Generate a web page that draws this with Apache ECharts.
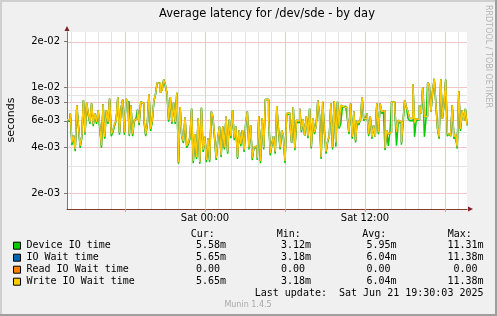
<!DOCTYPE html>
<html>
<head>
<meta charset="utf-8">
<script src="https://cdn.jsdelivr.net/npm/echarts@6/dist/echarts.min.js"></script>
<style>
  html, body { margin: 0; padding: 0; background: #f0f0f0; }
  #chart { width: 497px; height: 316px; }
</style>
</head>
<body>
<div id="chart"></div>
<script>
  // samples in milliseconds, left to right
  var writeWait = [
    6.1, 6.1, 6.7, 4.3, 4.8, 3.9, 7.6, 5.5, 4.1, 4.7, 8.2, 5.0, 7.9, 6.7, 5.9, 7.8, 5.7, 6.7, 5.9, 7.0,
    5.5, 4.1, 7.7, 4.7, 7.0, 5.9, 8.4, 4.9, 5.2, 5.7, 6.05, 8.6, 5.0, 7.3, 8.3, 5.0, 8.4, 8.0, 4.9,
    7.6, 4.9, 6.05, 6.2, 7.1, 5.8, 8.0, 7.8, 6.05, 4.9, 5.8, 9.0, 5.3, 6.05, 8.1, 9.0, 10.7, 10.6, 9.2, 9.6,
    11.25, 10.4, 9.1, 6.1, 8.6, 5.9, 7.9, 5.9, 9.2, 3.18, 7.4, 4.8, 4.4, 6.3, 4.1, 4.3, 4.7, 7.2, 3.25, 4.9,
    3.45, 6.2,
    3.2, 7.3, 3.85, 4.7, 3.3, 4.6, 3.3, 6.9, 6.4, 4.75, 3.4, 4.6, 5.5, 3.55, 5.5, 4.0, 6.4, 3.75, 6.1, 4.75,
    7.0, 4.6, 5.5, 3.45, 5.2, 4.2, 5.2, 3.85, 5.8, 6.9, 4.0, 5.6, 3.4, 4.0, 4.1, 3.4, 6.4, 3.25, 6.2, 4.0, 8.3,
    8.3, 6.4, 3.65, 4.2, 4.75, 3.75, 7.5, 5.3, 4.0, 5.2, 4.75, 3.25, 6.7, 6.75, 5.8, 4.3, 7.4, 3.95, 6.05, 6.0,
    7.2, 5.2, 6.1, 4.8, 6.4, 4.75, 7.2, 4.05, 6.2, 5.05, 5.6, 8.2, 6.55, 3.45, 8.0, 5.2, 3.75, 4.45, 4.75, 7.8,
    4.0, 8.1,
    4.3, 8.0, 5.5, 7.6, 7.4, 7.5, 7.35, 6.4, 5.05, 7.8, 4.7, 6.9, 4.45, 6.05, 5.8, 6.1, 8.6, 6.2, 6.2, 6.7,
    4.9, 6.4, 4.7, 5.6, 4.7, 7.8, 5.05, 7.8, 6.9, 7.0, 3.95, 5.2, 4.9, 5.05, 8.0, 8.0, 7.0, 5.05, 6.05, 5.9, 4.3,
    6.05, 8.2, 7.4, 6.9, 6.2, 6.2, 10.5, 5.8, 6.2, 6.1, 7.6, 6.7, 10.0, 6.4, 6.4, 10.7, 10.3, 6.9, 9.4, 11.38,
    7.8, 5.4, 4.7, 11.3, 6.2, 7.8, 11.2, 4.9, 4.9, 4.75, 7.6, 4.7, 4.9, 4.05, 9.4, 5.3, 7.0, 6.0, 7.2, 5.65
  ];
  var deviceIO = [
    5.95, 5.95, 6.7, 4.15, 4.8, 3.78, 7.6, 5.5, 3.98, 4.56, 8.2, 4.85, 7.7, 6.5, 5.72, 7.8, 5.52, 6.7, 5.72, 7.0,
    5.33, 3.98, 7.7, 4.56, 7.0, 5.72, 8.4, 4.75, 5.04, 5.52, 6.05, 8.6, 4.85, 7.3, 8.3, 4.85, 8.15, 8.0, 4.75,
    7.6, 4.75, 5.9, 6.2, 7.1, 5.62, 8.0, 7.8, 5.87, 4.75, 5.62, 9.0, 5.14, 5.87, 8.1, 9.0, 10.7, 10.6, 9.2, 9.6,
    11.2, 10.1, 9.1, 5.92, 8.6, 5.72, 7.9, 5.72, 9.2, 3.12, 7.4, 4.66, 4.27, 6.3, 3.98, 4.17, 4.56, 7.2, 3.15, 4.75,
    3.35, 6.2,
    3.12, 7.3, 3.73, 4.7, 3.2, 4.6, 3.2, 6.9, 6.2, 4.6, 3.3, 4.6, 5.5, 3.44, 5.5, 3.88, 6.4, 3.64, 6.1, 4.6,
    7.0, 4.46, 5.5, 3.35, 5.2, 4.07, 5.2, 3.73, 5.62, 6.9, 3.88, 5.6, 3.3, 3.95, 4.0, 3.3, 6.4, 3.15, 6.2, 3.88, 8.3,
    8.3, 6.2, 3.54, 4.2, 4.75, 3.64, 7.3, 5.14, 3.88, 5.2, 4.6, 3.15, 6.7, 6.55, 5.62, 4.3, 7.4, 3.83, 5.87, 5.82,
    7.2, 5.04, 6.1, 4.8, 6.4, 4.6, 7.2, 3.93, 6.2, 4.9, 5.6, 8.2, 6.55, 3.35, 8.0, 5.04, 3.64, 4.32, 4.75, 7.8,
    3.88, 8.1,
    4.05, 8.0, 5.33, 5.75, 7.4, 7.5, 7.35, 6.2, 4.9, 7.8, 4.56, 6.9, 4.32, 6.05, 5.62, 6.1, 8.6, 6.0, 6.2, 6.7,
    4.75, 6.4, 4.56, 5.6, 4.7, 7.8, 4.9, 7.8, 6.7, 7.0, 3.83, 5.2, 4.1, 5.05, 8.0, 8.0, 6.8, 4.1, 5.75, 5.9, 4.17,
    5.75, 8.2, 7.4, 6.2, 6.0, 6.0, 10.5, 4.7, 6.0, 6.1, 7.6, 6.7, 10.0, 4.7, 6.2, 10.7, 10.3, 6.9, 9.2, 11.31,
    7.8, 5.3, 4.56, 11.3, 6.2, 7.6, 11.2, 4.75, 4.9, 4.75, 7.6, 4.56, 4.75, 3.93, 9.4, 5.14, 7.0, 6.0, 7.2, 5.58
  ];
  var ioWait = writeWait; // same figures as write wait (see legend)

  // time span in hours relative to Sat 00:00
  var startHour = -10.35, endHour = 19.65;
  var xMajorHours = [-6, 0, 6, 12, 18];
  var xMinorHours = [-10, -9, -8, -7, -5, -4, -3, -2, -1, 1, 2, 3, 4, 5, 7, 8, 9, 10, 11, 13, 14, 15, 16, 17, 19];
  var xLabelHours = [0, 12];
  var xLabels = ['Sat 00:00', 'Sat 12:00'];

  // y axis in seconds (log)
  var yRange = [1.567e-3, 2.317e-2];
  var yTickValues = [2e-3, 4e-3, 6e-3, 8e-3, 1e-2, 2e-2];
  var yTickLabels = ['2e-03', '4e-03', '6e-03', '8e-03', '1e-02', '2e-02'];
  var yMinorValues = [3e-3, 5e-3, 7e-3, 9e-3];

  var legendNames = ['Device IO time', 'IO Wait time', 'Read IO Wait time', 'Write IO Wait time'];
  var legendColors = ['#00cc00', '#0066b3', '#ff8000', '#ffcc00'];
  var colHeaders = ['Cur:', 'Min:', 'Avg:', 'Max:'];
  var curVals = ['5.58m', '5.65m', '0.00 ', '5.65m'];
  var minVals = ['3.12m', '3.18m', '0.00 ', '3.18m'];
  var avgVals = ['5.95m', '6.04m', '0.00 ', '6.04m'];
  var maxVals = ['11.31m', '11.38m', '0.00 ', '11.38m'];
  var lastUpdate = 'Last update:  Sat Jun 21 19:30:03 2025';

  var N = writeWait.length;
  var dt = (endHour - startHour) / (N - 1);
  function lg(v) { return Math.log10(v); }
  function toPoints(arr) {
    return arr.map(function (v, i) { return [startHour + i * dt, lg(v / 1000)]; });
  }

  var mono = "'DejaVu Sans Mono', monospace";
  var sans = "'DejaVu Sans', sans-serif";
  var majorGrid = '#f2c6c6';
  var minorGrid = '#e3e3e3';

  var graphics = [
    { type: 'rect', shape: { x: 0, y: 0, width: 497, height: 2 }, style: { fill: '#cfcfcf' } },
    { type: 'rect', shape: { x: 0, y: 0, width: 2, height: 316 }, style: { fill: '#cfcfcf' } },
    { type: 'rect', shape: { x: 0, y: 314, width: 497, height: 2 }, style: { fill: '#9e9e9e' } },
    { type: 'rect', shape: { x: 495, y: 0, width: 2, height: 316 }, style: { fill: '#9e9e9e' } },
    { type: 'text', x: 267, y: 14, style: { text: 'Average latency for /dev/sde - by day', font: '11.5px ' + sans, fill: '#000', align: 'center', verticalAlign: 'middle' } },
    { type: 'text', x: 11, y: 120, rotation: Math.PI / 2, style: { text: 'seconds', font: '11px ' + sans, fill: '#000', align: 'center', verticalAlign: 'middle' } },
    { type: 'text', x: 488, y: 5, rotation: -Math.PI / 2, style: { text: 'RRDTOOL / TOBI OETIKER', font: '8px ' + sans, fill: '#b4b4b4', align: 'left', verticalAlign: 'middle' } },
    { type: 'polygon', z: 10, shape: { points: [[64.5, 31], [69.5, 31], [67, 26]] }, style: { fill: '#801f1f' } },
    { type: 'polygon', z: 10, shape: { points: [[468, 206.5], [468, 211.5], [473, 209]] }, style: { fill: '#801f1f' } },
    { type: 'text', x: 248, y: 305, style: { text: 'Munin 1.4.5', font: '8px ' + sans, fill: '#a8a8a8', align: 'center', verticalAlign: 'middle' } },
    { type: 'text', x: 483.5, y: 293.7, style: { text: lastUpdate, font: '10px ' + mono, fill: '#000', align: 'right', verticalAlign: 'middle' } }
  ];

  var headerX = [190.7, 276.7, 362.3, 447.7];
  var valueRight = [226, 311, 396.5, 483.5];
  colHeaders.forEach(function (h, c) {
    graphics.push({ type: 'text', x: headerX[c], y: 234, style: { text: h, font: '10px ' + mono, fill: '#000', align: 'left', verticalAlign: 'middle' } });
  });
  var cols = [curVals, minVals, avgVals, maxVals];
  legendNames.forEach(function (name, r) {
    var y = 245.7 + r * 12;
    graphics.push({ type: 'rect', shape: { x: 13.5, y: y - 3.5, width: 7, height: 7 }, style: { fill: legendColors[r], stroke: '#000', lineWidth: 1 } });
    graphics.push({ type: 'text', x: 26.5, y: y, style: { text: name, font: '10px ' + mono, fill: '#000', align: 'left', verticalAlign: 'middle' } });
    cols.forEach(function (col, c) {
      graphics.push({ type: 'text', x: valueRight[c], y: y, style: { text: col[r], font: '10px ' + mono, fill: '#000', align: 'right', verticalAlign: 'middle' } });
    });
  });

  // grid lines as mark lines, placed through the axes, kept under the data
  function gridLine(key, value, color) {
    var item = { lineStyle: { color: color, type: 'solid', width: 1 } };
    item[key] = value;
    return item;
  }
  var gridLines = []
    .concat(xMinorHours.map(function (h) { return gridLine('xAxis', h, minorGrid); }))
    .concat(yMinorValues.map(function (v) { return gridLine('yAxis', lg(v), minorGrid); }))
    .concat(xMajorHours.map(function (h) { return gridLine('xAxis', h, majorGrid); }))
    .concat(yTickValues.map(function (v) { return gridLine('yAxis', lg(v), majorGrid); }));

  var chart = echarts.init(document.getElementById('chart'), null, { renderer: 'canvas' });
  var option = {
    backgroundColor: '#f0f0f0',
    animation: false,
    grid: {
      left: 67, right: 30, top: 32, bottom: 107,
      show: true, backgroundColor: '#ffffff', borderWidth: 0
    },
    xAxis: {
      type: 'value', min: startHour, max: endHour, position: 'bottom',
      axisLine: { show: true, onZero: false, lineStyle: { color: '#7f3f2a', width: 1 } },
      axisTick: { show: true, customValues: xMajorHours, length: 3, lineStyle: { color: '#e39a9a' } },
      axisLabel: {
        customValues: xLabelHours, margin: 4, color: '#000', fontFamily: sans, fontSize: 10,
        formatter: function (v) { return xLabels[xLabelHours.indexOf(Math.round(v))] || ''; }
      },
      splitLine: { show: false }, minorSplitLine: { show: false }
    },
    yAxis: {
      type: 'value', min: lg(yRange[0]), max: lg(yRange[1]), position: 'left',
      axisLine: { show: true, onZero: false, lineStyle: { color: '#777', width: 1 } },
      axisTick: { show: true, customValues: yTickValues.map(lg), length: 3, lineStyle: { color: '#777' } },
      axisLabel: {
        customValues: yTickValues.map(lg), margin: 7, color: '#000', fontFamily: sans, fontSize: 10,
        formatter: function (v) {
          for (var i = 0; i < yTickValues.length; i++) {
            if (Math.abs(lg(yTickValues[i]) - v) < 1e-6) return yTickLabels[i];
          }
          return '';
        }
      },
      splitLine: { show: false }, minorSplitLine: { show: false }
    },
    series: [{
      name: 'grid', type: 'line', data: [], silent: true, z: 0,
      markLine: { silent: true, symbol: 'none', label: { show: false }, animation: false, z: 0, data: gridLines }
    }, {
      name: 'Device IO time', type: 'line', step: 'end', showSymbol: false, silent: true, z: 3,
      lineStyle: { color: legendColors[0], width: 1.5 }, data: toPoints(deviceIO)
    }, {
      name: 'IO Wait time', type: 'line', step: 'end', showSymbol: false, silent: true, z: 4,
      lineStyle: { color: legendColors[1], width: 1.5 }, data: toPoints(ioWait)
    }, {
      name: 'Write IO Wait time', type: 'line', step: 'end', showSymbol: false, silent: true, z: 5,
      lineStyle: { color: legendColors[3], width: 1.5 }, data: toPoints(writeWait)
    }],
    graphic: graphics
  };
  chart.setOption(option);
</script>
</body>
</html>
